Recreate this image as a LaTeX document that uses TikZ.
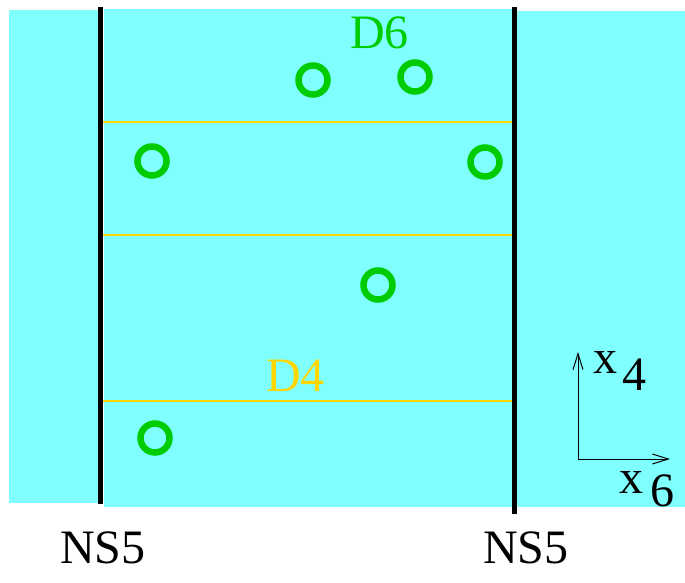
\documentclass[tikz,border=0pt]{standalone}
\usepackage{fontspec}
\setmainfont{Liberation Serif}
\usetikzlibrary{arrows.meta}
\definecolor{bgcyan}{RGB}{128,255,255}
\definecolor{dgreen}{RGB}{0,204,0}
\definecolor{dyellow}{RGB}{255,214,0}
\begin{document}
\begin{tikzpicture}[x=1pt,y=-1pt,
  big/.style={font=\fontsize{48}{58}\selectfont, inner sep=0pt, anchor=base west},
  ns5/.style={line width=4.5pt, black},
  d4line/.style={line width=2pt, dyellow},
  d6/.style={draw=dgreen, line width=6.5pt, circle, minimum size=29pt, inner sep=0pt},
  axis/.style={line width=1pt, -{Straight Barb[length=16pt,width=10pt]}}]
\useasboundingbox (0,0) rectangle (685,582);
% cyan regions
\fill[bgcyan] (9,10) rectangle (99,503);
\fill[bgcyan] (104,9) rectangle (513,507);
\fill[bgcyan] (517,11) rectangle (685,507);
% D4 branes
\draw[d4line] (102,122) -- (512,122);
\draw[d4line] (102,235) -- (512,235);
\draw[d4line] (102,401) -- (512,401);
% NS5 branes
\coordinate (ns5at) at (100.5,7);
\coordinate (ns5ab) at (100.5,504);
\coordinate (ns5bt) at (514.5,7);
\coordinate (ns5bb) at (514.5,514);
\draw[ns5] (ns5at) -- (ns5ab);
\draw[ns5] (ns5bt) -- (ns5bb);
% D6 branes
\node[d6] (c1) at (313,80) {};
\node[d6] (c2) at (415,77) {};
\node[d6] (c3) at (152,161) {};
\node[d6] (c4) at (485,162) {};
\node[d6] (c5) at (378,285) {};
\node[d6] (c6) at (155,438) {};
% labels
\node[big, text=dgreen] (lD6) at (350,48) {D6};
\node[big, text=dyellow] (lD4) at (266,391) {D4};
\node[big] (lns1) at (60,563) {NS5};
\node[big] (lns2) at (483,563) {NS5};
% axes
\coordinate (o) at (578,459);
\coordinate (ytip) at (578,352);
\coordinate (xtip) at (670,459);
\draw[axis] (o) -- (ytip);
\draw[axis] (o) -- (xtip);
\node[big] (x4) at (593,373) {x};
\node[big] (s4) at (622,390) {4};
\node[big] (x6) at (619,493) {x};
\node[big] (s6) at (650,506) {6};
\end{tikzpicture}
\end{document}
